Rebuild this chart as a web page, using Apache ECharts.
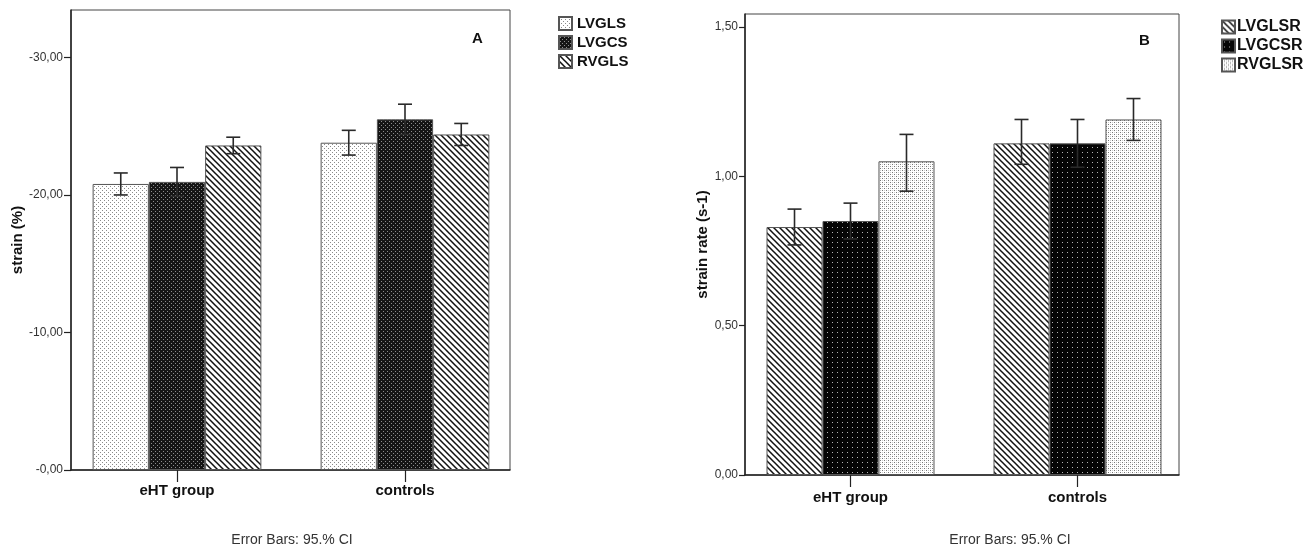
<!DOCTYPE html>
<html>
<head>
<meta charset="utf-8">
<script src="https://cdn.jsdelivr.net/npm/echarts@6/dist/echarts.min.js"></script>
<style>
html,body{margin:0;padding:0;background:#fff;}
#main{width:1311px;height:556px;}
</style>
</head>
<body>
<div id="main"></div>
<script>
// ---------- data ----------
const categories = ['eHT group', 'controls'];

// Panel A: strain (%) magnitudes (axis shows negative values)
const strainLVGLS = [20.8, 23.8];
const strainLVGLSLow = [20.0, 22.9];
const strainLVGLSHigh = [21.6, 24.7];
const strainLVGCS = [20.95, 25.5];
const strainLVGCSLow = [19.9, 24.4];
const strainLVGCSHigh = [22.0, 26.6];
const strainRVGLS = [23.6, 24.4];
const strainRVGLSLow = [23.0, 23.6];
const strainRVGLSHigh = [24.2, 25.2];

// Panel B: strain rate (s-1)
const rateLVGLSR = [0.83, 1.11];
const rateLVGLSRLow = [0.77, 1.04];
const rateLVGLSRHigh = [0.89, 1.19];
const rateLVGCSR = [0.85, 1.11];
const rateLVGCSRLow = [0.79, 1.03];
const rateLVGCSRHigh = [0.91, 1.19];
const rateRVGLSR = [1.05, 1.19];
const rateRVGLSRLow = [0.95, 1.12];
const rateRVGLSRHigh = [1.14, 1.26];

const namesA = ['LVGLS', 'LVGCS', 'RVGLS'];
const namesB = ['LVGLSR', 'LVGCSR', 'RVGLSR'];

// ---------- patterns ----------
function mk(w, h, draw) {
  const c = document.createElement('canvas');
  c.width = w; c.height = h;
  const ctx = c.getContext('2d');
  draw(ctx, w, h);
  return { image: c, repeat: 'repeat' };
}
const patLightDots = mk(4, 4, (ctx) => {
  ctx.fillStyle = '#fff'; ctx.fillRect(0, 0, 4, 4);
  ctx.fillStyle = '#8a8a8a';
  ctx.fillRect(0, 0, 1, 1); ctx.fillRect(2, 2, 1, 1);
});
const patLightDots2 = mk(4, 4, (ctx) => {
  ctx.fillStyle = '#fff'; ctx.fillRect(0, 0, 4, 4);
  ctx.fillStyle = '#777';
  ctx.fillRect(0, 0, 1, 1); ctx.fillRect(2, 2, 1, 1);
  ctx.fillStyle = '#ccc';
  ctx.fillRect(2, 0, 1, 1); ctx.fillRect(0, 2, 1, 1);
});
const patDarkDots = mk(4, 4, (ctx) => {
  ctx.fillStyle = '#151515'; ctx.fillRect(0, 0, 4, 4);
  ctx.fillStyle = '#8c8c8c';
  ctx.fillRect(1, 1, 1, 1); ctx.fillRect(3, 3, 1, 1);
});
const patDarkSparse = mk(5, 5, (ctx) => {
  ctx.fillStyle = '#050505'; ctx.fillRect(0, 0, 5, 5);
  ctx.fillStyle = '#b5b5b5';
  ctx.fillRect(2, 2, 1, 1);
});
const patHatch = mk(6, 6, (ctx) => {
  ctx.fillStyle = '#fff'; ctx.fillRect(0, 0, 6, 6);
  ctx.strokeStyle = '#111'; ctx.lineWidth = 1.5;
  ctx.beginPath();
  ctx.moveTo(-3, -3); ctx.lineTo(9, 9);
  ctx.moveTo(-9, -3); ctx.lineTo(3, 9);
  ctx.moveTo(3, -3); ctx.lineTo(15, 9);
  ctx.stroke();
});

// ---------- helpers ----------
const GAP = 0.26;
function barSeries(name, data, pattern, axisIdx) {
  return {
    name: name, type: 'bar', data: data,
    xAxisIndex: axisIdx, yAxisIndex: axisIdx,
    barGap: '0%', barCategoryGap: (GAP * 100) + '%',
    itemStyle: { color: pattern, borderColor: '#555', borderWidth: 1 },
    emphasis: { disabled: true },
    z: 2
  };
}
function errSeries(idx, low, high, axisIdx) {
  const d = categories.map((c, i) => [i, low[i], high[i]]);
  return {
    type: 'custom', xAxisIndex: axisIdx, yAxisIndex: axisIdx, z: 5,
    data: d, encode: { x: 0, y: [1, 2] }, silent: true,
    renderItem: function (params, api) {
      const cat = api.value(0);
      const lo = api.coord([cat, api.value(1)]);
      const hi = api.coord([cat, api.value(2)]);
      const band = api.size([1, 0])[0];
      const bw = band * (1 - GAP) / 3;
      const x = lo[0] + (idx - 1) * bw;
      const cap = 7;
      const st = { stroke: '#2a2a2a', lineWidth: 1.6 };
      return {
        type: 'group', children: [
          { type: 'line', shape: { x1: x, y1: lo[1], x2: x, y2: hi[1] }, style: st },
          { type: 'line', shape: { x1: x - cap, y1: hi[1], x2: x + cap, y2: hi[1] }, style: st },
          { type: 'line', shape: { x1: x - cap, y1: lo[1], x2: x + cap, y2: lo[1] }, style: st }
        ]
      };
    }
  };
}
const fontFam = '"Liberation Sans", Arial, sans-serif';
// frame x axis: only the thick bottom line
function frameX(gi) {
  return {
    type: 'value', gridIndex: gi, min: 0, max: 1,
    axisLine: { show: true, onZero: false, lineStyle: { color: '#222', width: 1.5 } },
    axisTick: { show: false }, axisLabel: { show: false }, splitLine: { show: false }
  };
}
// category axis for the bars: ticks + labels only
function catX(gi, margin) {
  return {
    type: 'category', gridIndex: gi, data: categories,
    axisLine: { show: false },
    axisTick: { show: true, alignWithLabel: true, length: 12, lineStyle: { color: '#222', width: 1.2 } },
    axisLabel: { margin: margin, fontFamily: fontFam, fontWeight: 'bold', fontSize: 15, color: '#111' },
    splitLine: { show: false }
  };
}
function frameY(gi, max, interval, fmt, name, gap, tickLen) {
  return {
    type: 'value', gridIndex: gi, min: 0, max: max, interval: interval,
    name: name, nameLocation: 'middle', nameRotate: 90, nameGap: gap,
    nameTextStyle: { fontFamily: fontFam, fontWeight: 'bold', fontSize: 15, color: '#111' },
    axisLine: { show: true, onZero: false, lineStyle: { color: '#222', width: 1.5 } },
    axisTick: { show: true, length: tickLen, lineStyle: { color: '#222', width: 1.2 } },
    axisLabel: { formatter: fmt, showMaxLabel: false, fontFamily: fontFam, fontSize: 12, color: '#333', margin: tickLen + 1 },
    splitLine: { show: false }
  };
}
function dataY(gi, max) {
  return {
    type: 'value', gridIndex: gi, min: 0, max: max, show: false,
    splitLine: { show: false }
  };
}

const maxA = 33.45;
const maxB = 1.543;

const option = {
  animation: false,
  backgroundColor: '#fff',
  grid: [
    { left: 71, top: 10, width: 439, height: 460, show: true, borderColor: '#444', borderWidth: 1, backgroundColor: 'transparent' },
    { left: 63, top: 10, width: 456, height: 460, show: false },
    { left: 745, top: 14, width: 434, height: 461, show: true, borderColor: '#444', borderWidth: 1, backgroundColor: 'transparent' },
    { left: 737, top: 14, width: 454, height: 461, show: false }
  ],
  xAxis: [frameX(0), catX(1, 13), frameX(2), catX(3, 15)],
  yAxis: [
    frameY(0, maxA, 10, v => '-' + v.toFixed(2).replace('.', ','), 'strain (%)', 46, 7),
    dataY(1, maxA),
    frameY(2, maxB, 0.5, v => v.toFixed(2).replace('.', ','), 'strain rate (s-1)', 35, 6),
    dataY(3, maxB)
  ],
  legend: [
    {
      data: namesA, orient: 'vertical', left: 553, top: 11, itemWidth: 13, itemHeight: 13, itemGap: 4,
      icon: 'rect', selectedMode: false,
      textStyle: { fontFamily: fontFam, fontWeight: 'bold', fontSize: 15, color: '#111' }
    },
    {
      data: namesB, orient: 'vertical', left: 1216, top: 14, itemWidth: 13, itemHeight: 13, itemGap: 3,
      icon: 'rect', selectedMode: false,
      textStyle: { fontFamily: fontFam, fontWeight: 'bold', fontSize: 16, color: '#111', padding: [0, 0, 0, -3] }
    }
  ],
  graphic: [
    { type: 'text', left: 472, top: 31, style: { text: 'A', font: 'bold 15px "Liberation Sans", Arial', fill: '#111' } },
    { type: 'text', left: 1139, top: 33, style: { text: 'B', font: 'bold 15px "Liberation Sans", Arial', fill: '#111' } },
    { type: 'text', x: 292, y: 540, style: { text: 'Error Bars: 95.% CI', font: '14px "Liberation Sans", Arial', fill: '#333', align: 'center', verticalAlign: 'middle' } },
    { type: 'text', x: 1010, y: 540, style: { text: 'Error Bars: 95.% CI', font: '14px "Liberation Sans", Arial', fill: '#333', align: 'center', verticalAlign: 'middle' } }
  ],
  series: [
    barSeries('LVGLS', strainLVGLS, patLightDots, 1),
    barSeries('LVGCS', strainLVGCS, patDarkDots, 1),
    barSeries('RVGLS', strainRVGLS, patHatch, 1),
    errSeries(0, strainLVGLSLow, strainLVGLSHigh, 1),
    errSeries(1, strainLVGCSLow, strainLVGCSHigh, 1),
    errSeries(2, strainRVGLSLow, strainRVGLSHigh, 1),
    barSeries('LVGLSR', rateLVGLSR, patHatch, 3),
    barSeries('LVGCSR', rateLVGCSR, patDarkSparse, 3),
    barSeries('RVGLSR', rateRVGLSR, patLightDots2, 3),
    errSeries(0, rateLVGLSRLow, rateLVGLSRHigh, 3),
    errSeries(1, rateLVGCSRLow, rateLVGCSRHigh, 3),
    errSeries(2, rateRVGLSRLow, rateRVGLSRHigh, 3)
  ]
};
const chart = echarts.init(document.getElementById('main'), null, { renderer: 'canvas' });
chart.setOption(option);
</script>
</body>
</html>
